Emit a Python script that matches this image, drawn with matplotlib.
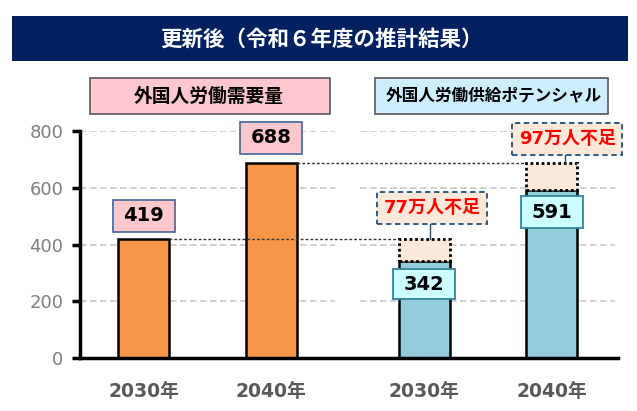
import matplotlib.pyplot as plt
from matplotlib.patches import Rectangle

plt.rcParams['font.family'] = ['DejaVu Sans', 'Noto Sans CJK JP']

# データ (万人)
years = ['2030年', '2040年', '2030年', '2040年']
demand = [419, 688]
supply = [342, 591]
shortage = [d - s for d, s in zip(demand, supply)]
yticks = [0, 200, 400, 600, 800]

title = '更新後（令和６年度の推計結果）'
group_labels = ['外国人労働需要量', '外国人労働供給ポテンシャル']

xpos = [0, 1, 2.2, 3.2]
bw = 0.4
px_x = 127.5       # 1 x単位あたりのピクセル
px_y = 227 / 800   # 1 y単位あたりのピクセル

fig = plt.figure(figsize=(6.37, 4.11), dpi=100)
ax = fig.add_axes([80 / 637, 1 - 358 / 411, (618 - 80) / 637, (358 - 131) / 411])
ax.set_xlim(-0.498, 3.72)
ax.set_ylim(0, 800)

# グリッド (グループごとに分割)
for y in yticks[1:]:
    ax.hlines(y, -0.498, 1.5, colors='#c8c8c8', linestyles=(0, (4, 2)), lw=1.2, zorder=0)
    ax.hlines(y, 1.7, 3.7, colors='#c8c8c8', linestyles=(0, (4, 2)), lw=1.2, zorder=0)

# 需要の棒
ax.bar(xpos[:2], demand, width=bw, color='#f79646', edgecolor='black', lw=1.8, zorder=2)
# 供給の棒
ax.bar(xpos[2:], supply, width=bw, color='#92cddc', edgecolor='black', lw=1.8, zorder=2)
# 不足分
ax.bar(xpos[2:], shortage, bottom=supply, width=bw, color='#fde9d9', edgecolor='black',
       lw=2.0, linestyle=(0, (1, 1)), zorder=2)

# 需要の水準線
for i in range(2):
    ax.hlines(demand[i], xpos[i] + bw / 2, xpos[i + 2] - bw / 2, colors='#333333',
              linestyles=(0, (2, 1.5)), lw=1.0, zorder=3)

fam = ['DejaVu Sans', 'Noto Sans CJK JP']

def box(x, y, s, fc, ec, wpx, hpx, color='black', size=14, ls='-'):
    w = wpx / px_x
    h = hpx / px_y
    ax.add_patch(Rectangle((x - w / 2, y - h / 2), w, h, fc=fc, ec=ec, lw=1.3, ls=ls,
                           zorder=4, clip_on=False))
    ax.text(x, y, s, ha='center', va='center', fontsize=size, fontweight='bold', color=color,
            zorder=5, family=fam)

# 値ラベル
box(xpos[0], demand[0] + 83, str(demand[0]), '#ffc7ce', '#4f6fa0', 62, 32)
box(xpos[1], demand[1] + 88, str(demand[1]), '#ffc7ce', '#4f6fa0', 62, 32)
box(xpos[2], supply[0] - 82, str(supply[0]), '#ccffff', '#31859c', 62, 30)
box(xpos[3], supply[1] - 77, str(supply[1]), '#ccffff', '#31859c', 62, 32)

# 不足ラベル
lab_x = [2.263, 3.322]
lab_y = [528, 771]
line_x = [2.247, 3.306]
for i in range(2):
    ax.plot([line_x[i], line_x[i]], [lab_y[i] - 16 / px_y, demand[i]], color='#1f4e79',
            lw=1.0, zorder=3)
    box(lab_x[i], lab_y[i], f'{shortage[i]}万人不足', '#fde9d9', '#1f4e79', 110, 32,
        color='red', size=13, ls=(0, (3, 2)))

# 軸
for s in ['top', 'right']:
    ax.spines[s].set_visible(False)
ax.spines['left'].set_linewidth(2.5)
ax.spines['bottom'].set_linewidth(2.5)
ax.set_yticks(yticks)
ax.set_yticklabels([str(v) for v in yticks], fontsize=13, color='#7f7f7f')
ax.tick_params(axis='y', length=6, width=2.5, pad=6)
ax.set_xticks(xpos)
ax.set_xticklabels(years, fontsize=13.5, fontweight='bold', color='#595959')
ax.tick_params(axis='x', length=0, pad=17)

# タイトル帯
fig.add_artist(Rectangle((12 / 637, 1 - 61 / 411), 616 / 637, 45 / 411, transform=fig.transFigure,
                         fc='#002060', ec='none'))
fig.text(321 / 637, 1 - 39 / 411, title, ha='center', va='center', fontsize=15.5,
         fontweight='bold', color='white', family=['Noto Sans CJK JP', 'DejaVu Sans'])

# グループ見出し
fig.add_artist(Rectangle((90 / 637, 1 - 114 / 411), 240 / 637, 36 / 411, transform=fig.transFigure,
                         fc='#ffc7ce', ec='#595959', lw=1.2))
fig.text(209 / 637, 1 - 96 / 411, group_labels[0], ha='center', va='center', fontsize=13.5,
         fontweight='bold', color='black', family=['Noto Sans CJK JP', 'DejaVu Sans'])
fig.add_artist(Rectangle((375 / 637, 1 - 114 / 411), 233 / 637, 36 / 411, transform=fig.transFigure,
                         fc='#cdeeff', ec='#595959', lw=1.2))
fig.text(494 / 637, 1 - 96 / 411, group_labels[1], ha='center', va='center', fontsize=12,
         fontweight='bold', color='black', family=['Noto Sans CJK JP', 'DejaVu Sans'])

fig.savefig('out.png', dpi=100)
